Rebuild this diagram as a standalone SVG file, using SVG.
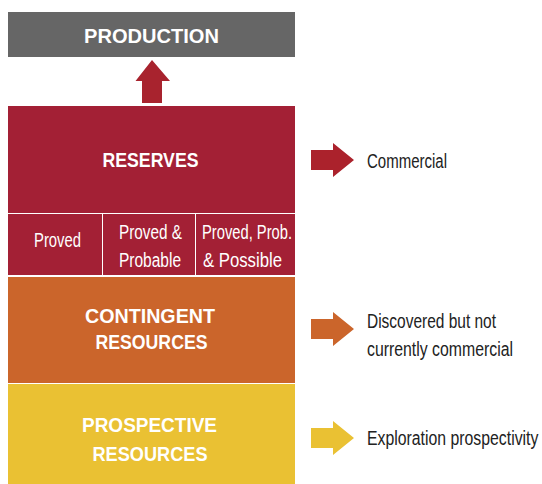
<svg xmlns="http://www.w3.org/2000/svg" width="542" height="484" viewBox="0 0 542 484">
  <style>
    .title { font-family: "Liberation Sans", Arial, sans-serif; font-weight: bold; font-size: 20px; fill: #ffffff; text-anchor: middle; }
    .sub { font-family: "Liberation Sans", Arial, sans-serif; font-size: 19.5px; fill: #ffffff; text-anchor: middle; }
    .note { font-family: "Liberation Sans", Arial, sans-serif; font-size: 19.5px; fill: #222222; }
  </style>
  <defs>
    <path id="rarrow" d="M0,-10 H22 V-17 L43,0 L22,17 V10 H0 Z"/>
  </defs>

  <g id="production">
    <rect x="8" y="12" width="287" height="45" fill="#666666"/>
    <text class="title" x="151.5" y="43" textLength="135" lengthAdjust="spacingAndGlyphs">PRODUCTION</text>
  </g>

  <g id="reserves">
    <rect x="8" y="106" width="287" height="107" fill="#A32035"/>
    <text class="title" x="150.5" y="167" textLength="96" lengthAdjust="spacingAndGlyphs">RESERVES</text>
  </g>

  <g id="proved">
    <rect x="8" y="214" width="94" height="61" fill="#A32035"/>
    <text class="sub" x="57.5" y="247" textLength="47" lengthAdjust="spacingAndGlyphs">Proved</text>
  </g>
  <g id="proved-probable">
    <rect x="103" y="214" width="92" height="61" fill="#A32035"/>
    <text class="sub" x="150.5" y="239" textLength="63" lengthAdjust="spacingAndGlyphs">Proved &amp;</text>
    <text class="sub" x="150" y="267" textLength="62" lengthAdjust="spacingAndGlyphs">Probable</text>
  </g>
  <g id="proved-probable-possible">
    <rect x="196" y="214" width="99" height="61" fill="#A32035"/>
    <text class="sub" x="247" y="239" textLength="90" lengthAdjust="spacingAndGlyphs">Proved, Prob.</text>
    <text class="sub" x="242.5" y="267" textLength="79" lengthAdjust="spacingAndGlyphs">&amp; Possible</text>
  </g>

  <g id="contingent">
    <rect x="8" y="277" width="287" height="106" fill="#CB652B"/>
    <text class="title" x="150" y="323" textLength="130" lengthAdjust="spacingAndGlyphs">CONTINGENT</text>
    <text class="title" x="151.5" y="349" textLength="112" lengthAdjust="spacingAndGlyphs">RESOURCES</text>
  </g>

  <g id="prospective">
    <rect x="8" y="384" width="287" height="100" fill="#EAC133"/>
    <text class="title" x="149.5" y="432" textLength="135" lengthAdjust="spacingAndGlyphs">PROSPECTIVE</text>
    <text class="title" x="150" y="461" textLength="115" lengthAdjust="spacingAndGlyphs">RESOURCES</text>
  </g>

  <g id="connectors">
    <!-- upward arrow from reserves to production -->
    <path d="M142,103 V81 H135.5 L152,60 L170,81 H162 V103 Z" fill="#A8232E"/>
    <!-- side arrows pointing to category notes -->
    <use href="#rarrow" x="311" y="160" fill="#AB222C"/>
    <use href="#rarrow" x="311" y="329" fill="#CB652B"/>
    <use href="#rarrow" x="311" y="438" fill="#EAC133"/>
  </g>

  <!-- notes set in a horizontally condensed face -->
  <g id="notes" transform="translate(367,0) scale(0.82,1)">
    <text class="note" x="0" y="168" textLength="97.6" lengthAdjust="spacingAndGlyphs">Commercial</text>
    <text class="note" x="0" y="328" textLength="157.3" lengthAdjust="spacingAndGlyphs">Discovered but not</text>
    <text class="note" x="0" y="356" textLength="178" lengthAdjust="spacingAndGlyphs">currently commercial</text>
    <text class="note" x="0" y="445" textLength="209" lengthAdjust="spacingAndGlyphs">Exploration prospectivity</text>
  </g>
</svg>
